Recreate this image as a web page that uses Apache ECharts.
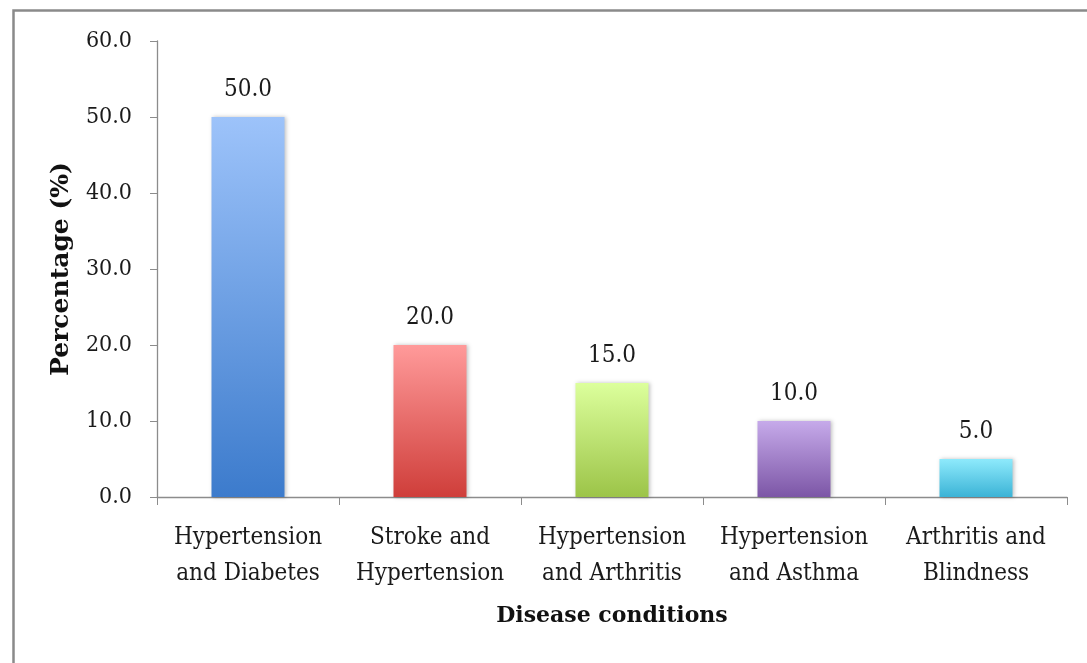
<!DOCTYPE html>
<html>
<head>
<meta charset="utf-8">
<script src="https://cdn.jsdelivr.net/npm/echarts@6/dist/echarts.min.js"></script>
<style>
html,body{margin:0;padding:0;background:#fff;}
#chart{width:1087px;height:663px;}
</style>
</head>
<body>
<div id="chart"></div>
<script>
const categories = ["Hypertension\nand Diabetes", "Stroke and\nHypertension", "Hypertension\nand Arthritis", "Hypertension\nand Asthma", "Arthritis and\nBlindness"];
const values = [50.0, 20.0, 15.0, 10.0, 5.0];
const topColors = ["#9dc3fa", "#ff9a9a", "#dcff9c", "#c6aaea", "#8eeafc"];
const bottomColors = ["#3c7bcc", "#cf3e3a", "#9cc448", "#7c56a6", "#3bb3d6"];
const yTicks = { min: 0, max: 60, interval: 10 };

const FONT = "'DejaVu Serif Condensed', 'DejaVu Serif', serif";
const FONTB = "'DejaVu Serif', serif";
const chart = echarts.init(document.getElementById('chart'), null, { renderer: 'canvas' });
chart.setOption({
  animation: false,
  backgroundColor: '#fff',
  graphic: [{
    type: 'rect', left: 11, top: 8, silent: true,
    shape: { x: 0, y: 0, width: 1100, height: 700 },
    style: { fill: 'none', stroke: '#8a8a8a', lineWidth: 2.5 }
  }],
  grid: { left: 157, top: 41, right: 20, bottom: 166, containLabel: false },
  xAxis: {
    type: 'category',
    data: categories,
    name: 'Disease conditions',
    nameLocation: 'middle',
    nameGap: 108,
    nameTextStyle: { fontFamily: FONTB, fontWeight: 'bold', fontSize: 22, color: '#111' },
    axisLine: { lineStyle: { color: '#8c8c8c', width: 1.3 } },
    axisTick: { show: true, length: 8, alignWithLabel: false, lineStyle: { color: '#8c8c8c' } },
    axisLabel: { fontFamily: FONT, fontSize: 24, color: '#1a1a1a', lineHeight: 36, margin: 23, interval: 0 }
  },
  yAxis: {
    type: 'value',
    min: yTicks.min, max: yTicks.max, interval: yTicks.interval,
    name: 'Percentage (%)',
    nameLocation: 'middle',
    nameGap: 83,
    nameTextStyle: { fontFamily: FONTB, fontWeight: 'bold', fontSize: 25, color: '#111' },
    axisLine: { show: true, lineStyle: { color: '#8c8c8c', width: 1.3 } },
    axisTick: { show: true, length: 7, lineStyle: { color: '#8c8c8c' } },
    splitLine: { show: false },
    axisLabel: { fontFamily: FONT, fontSize: 23, color: '#1a1a1a', margin: 25, formatter: v => v.toFixed(1) }
  },
  series: [{
    type: 'bar',
    barWidth: 73,
    data: values.map((v, i) => ({
      value: v,
      itemStyle: {
        color: new echarts.graphic.LinearGradient(0, 0, 0, 1, [
          { offset: 0, color: topColors[i] },
          { offset: 1, color: bottomColors[i] }
        ]),
        shadowColor: 'rgba(0,0,0,0.25)', shadowBlur: 4, shadowOffsetX: 1, shadowOffsetY: 0
      }
    })),
    label: {
      show: true, position: 'top', distance: 15,
      fontFamily: FONT, fontSize: 24, color: '#1a1a1a',
      formatter: p => p.value.toFixed(1)
    }
  }]
});
</script>
</body>
</html>
